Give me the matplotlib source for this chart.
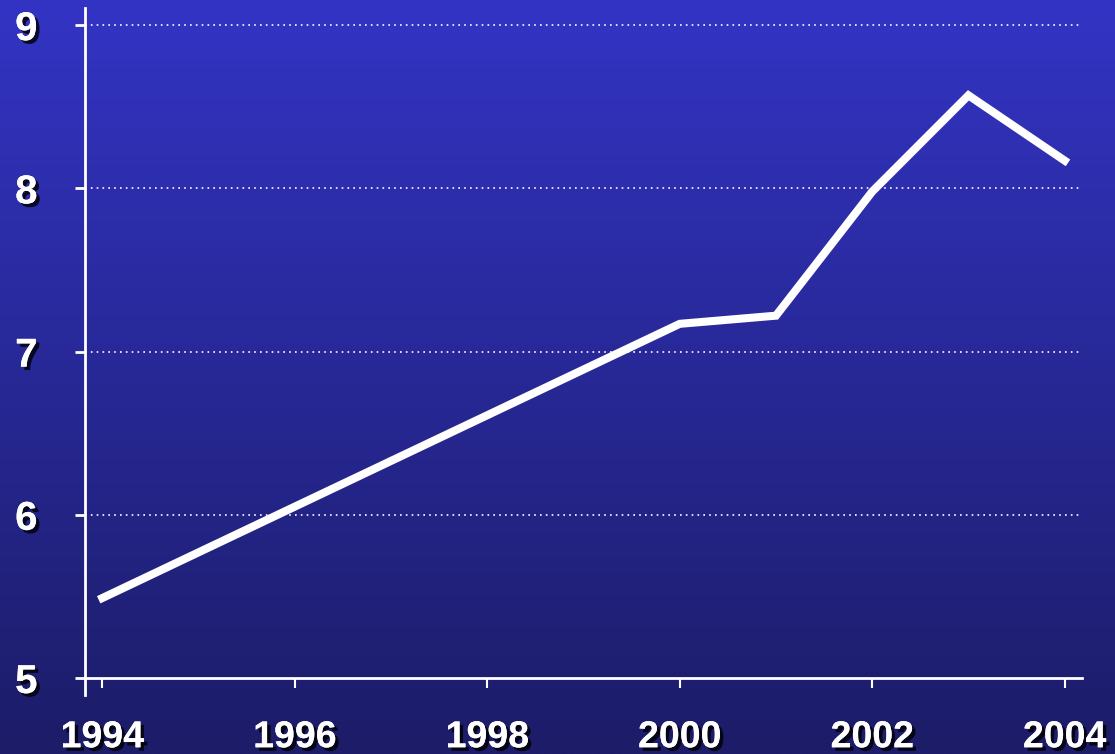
import numpy as np
import matplotlib
matplotlib.use('Agg')
import matplotlib.pyplot as plt
import matplotlib.patheffects as pe
from matplotlib.colors import LinearSegmentedColormap

years = [1994, 2000, 2001, 2002, 2003, 2004]
values = [5.49, 7.17, 7.22, 7.98, 8.57, 8.17]
xticks = [1994, 1996, 1998, 2000, 2002, 2004]
yticks = [5, 6, 7, 8, 9]

plt.rcParams['font.family'] = ['Liberation Sans', 'DejaVu Sans']

fig = plt.figure(figsize=(11.15, 7.54), dpi=100)

# gradient background over the whole figure
bg = fig.add_axes([0, 0, 1, 1], zorder=-1)
grad = np.linspace(0, 1, 256).reshape(-1, 1)
cmap = LinearSegmentedColormap.from_list('bg', ['#3334C4', '#1C1C68'])
bg.imshow(grad, aspect='auto', cmap=cmap, extent=[0, 1, 0, 1], origin='upper')
bg.axis('off')

# axes box in pixels: left 85, right 1082, top 8, bottom 695
W, H = 1115, 754
ax = fig.add_axes([85 / W, (H - 695) / H, (1082 - 85) / W, (695 - 8) / H])
ax.patch.set_alpha(0)

ax.plot(years, values, color='white', lw=5.8, solid_joinstyle='miter', zorder=3)

ax.set_xlim(1993.82, 2004.18)
ax.set_ylim(4.896, 9.105)
ax.set_xticks(xticks)
ax.set_yticks(yticks)

for s in ['top', 'right']:
    ax.spines[s].set_visible(False)
ax.spines['bottom'].set_position(('data', 5))
for s in ['left', 'bottom']:
    ax.spines[s].set_color('white')
    ax.spines[s].set_linewidth(2)

for y in yticks[1:]:
    ax.axhline(y, color='white', lw=1.2, ls=(0, (1, 2.5)), zorder=1)

# pads/lengths in points (dpi 100 -> 1pt = 1.39px)
shadow = [pe.withSimplePatchShadow(offset=(2.5, -2.5), shadow_rgbFace='black', alpha=0.8), pe.Normal()]
ax.tick_params(axis='y', colors='white', length=7.2, width=2, pad=27, labelsize=29)
ax.tick_params(axis='x', colors='white', length=7.2, width=1.5, pad=22.5, labelsize=27)
for lab in ax.get_xticklabels() + ax.get_yticklabels():
    lab.set_fontweight('bold')
    lab.set_path_effects(shadow)

fig.savefig('out.png', dpi=100)
